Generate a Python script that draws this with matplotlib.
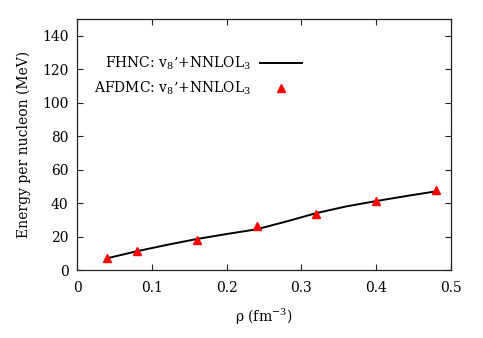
import matplotlib
matplotlib.use("Agg")
import matplotlib.pyplot as plt

plt.rcParams['font.family'] = ['DejaVu Serif']
plt.rcParams['mathtext.fontset'] = 'dejavuserif'

# FHNC curve
fhnc_rho = [0.04, 0.08, 0.12, 0.16, 0.20, 0.24, 0.28, 0.32, 0.36, 0.40, 0.44, 0.48]
fhnc_e = [7.0, 11.2, 15.0, 18.5, 21.5, 24.3, 29.0, 34.0, 38.0, 41.2, 44.2, 47.0]

# AFDMC points
afdmc_rho = [0.04, 0.08, 0.16, 0.24, 0.32, 0.40, 0.48]
afdmc_e = [7.3, 11.2, 18.2, 26.0, 33.5, 41.5, 47.8]

xticks = [0, 0.1, 0.2, 0.3, 0.4, 0.5]
xticklabels = ["0", "0.1", "0.2", "0.3", "0.4", "0.5"]
yticks = [0, 20, 40, 60, 80, 100, 120, 140]

fig = plt.figure(figsize=(4.83, 3.38), dpi=100)
ax = fig.add_axes([77/483, (338-270)/338, 374/483, 251/338])

ax.plot(fhnc_rho, fhnc_e, color='black', lw=1.4,
        label=r"FHNC: v$_8$’+NNLOL$_3$")
ax.plot(afdmc_rho, afdmc_e, linestyle='none', marker='^', color='red',
        markersize=6, label=r"AFDMC: v$_8$’+NNLOL$_3$")

ax.set_xlim(0, 0.5)
ax.set_ylim(0, 150)
ax.set_xticks(xticks)
ax.set_xticklabels(xticklabels)
ax.set_yticks(yticks)
ax.tick_params(direction='in', top=True, right=True, length=4, width=0.8,
               labelsize=10, colors='#222222', labelcolor='black', pad=6)
ax.tick_params(axis='x', pad=8)
for s in ax.spines.values():
    s.set_linewidth(0.9)
    s.set_color('#222222')

ax.set_xlabel(r"ρ (fm$^{-3}$)", fontsize=10, labelpad=8)
ax.set_ylabel("Energy per nucleon (MeV)", fontsize=10, labelpad=8)

leg = ax.legend(loc='upper right', bbox_to_anchor=((302-77)/374, (270-55)/251),
                frameon=False, markerfirst=False, fontsize=10,
                handlelength=3.0, handletextpad=0.7, labelspacing=0.55,
                borderpad=0, borderaxespad=0)

fig.savefig("out.png", dpi=100)
